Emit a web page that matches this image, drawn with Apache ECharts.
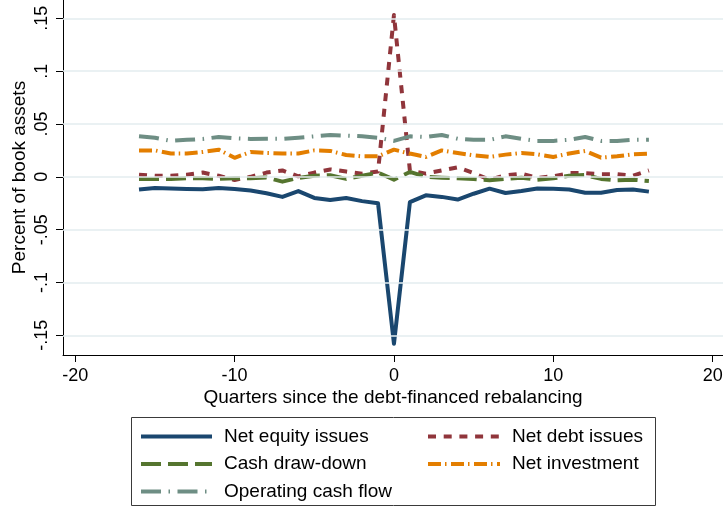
<!DOCTYPE html>
<html>
<head>
<meta charset="utf-8">
<script src="https://cdn.jsdelivr.net/npm/echarts@6/dist/echarts.min.js"></script>
<style>
html,body{margin:0;padding:0;background:#fff;}
#chart{width:723px;height:508px;}
</style>
</head>
<body>
<div id="chart"></div>
<script>
const quarters = [-16,-15,-14,-13,-12,-11,-10,-9,-8,-7,-6,-5,-4,-3,-2,-1,0,1,2,3,4,5,6,7,8,9,10,11,12,13,14,15,16];
const netEquity = [-0.012,-0.0105,-0.011,-0.0115,-0.0118,-0.0105,-0.0115,-0.013,-0.0155,-0.019,-0.0135,-0.020,-0.022,-0.020,-0.023,-0.025,-0.158,-0.024,-0.0175,-0.019,-0.0215,-0.016,-0.0112,-0.0153,-0.0134,-0.011,-0.0112,-0.012,-0.015,-0.015,-0.0125,-0.012,-0.014];
const netDebt = [0.002,0.001,0.001,0.002,0.004,0.001,-0.003,0.000,0.004,0.006,0.0005,0.004,0.007,0.005,0.003,0.005,0.153,0.006,0.003,0.006,0.009,0.0035,-0.0027,0.0014,0.003,-0.001,0.0005,0.0035,0.0035,0.0025,0.0025,0.001,0.006];
const cashDrawdown = [-0.002,-0.002,-0.002,-0.0014,-0.0014,-0.002,-0.0014,-0.0014,-0.0006,-0.0046,-0.001,0.001,0.0015,-0.002,0.001,0.004,-0.0027,0.0046,0.0,-0.0008,-0.0014,-0.002,-0.0033,-0.002,-0.0008,-0.0027,-0.0014,0.001,0.0017,-0.002,-0.0033,-0.0027,-0.004];
const netInvestment = [0.025,0.025,0.022,0.022,0.0235,0.0257,0.018,0.0235,0.0225,0.022,0.022,0.025,0.0245,0.0207,0.0194,0.0194,0.0257,0.022,0.0188,0.025,0.0225,0.0203,0.0188,0.021,0.0225,0.0213,0.0188,0.022,0.0245,0.0181,0.0194,0.0213,0.022];
const operatingCF = [0.0383,0.037,0.034,0.035,0.0358,0.0377,0.0364,0.0358,0.036,0.036,0.037,0.0383,0.0396,0.039,0.0383,0.037,0.034,0.0383,0.0377,0.0396,0.036,0.035,0.035,0.0383,0.036,0.034,0.034,0.035,0.0377,0.034,0.034,0.035,0.035];
const xTicks = [-20,-10,0,10,20];
const yTicks = [-0.15,-0.1,-0.05,0,0.05,0.1,0.15];

const FONT = '"Liberation Sans", Arial, Helvetica, sans-serif';
const LW = 4;
const pair = arr => quarters.map((q,i)=>[q,arr[i]]);
const fmtY = v => { if (Math.abs(v) < 1e-9) return '0'; return String(+v.toFixed(2)).replace('0.', '.'); };

const chart = echarts.init(document.getElementById('chart'), null, {renderer:'canvas'});
const mk = (name, data, color, type, z) => ({
  name, type:'line', data: pair(data), symbol:'none', showSymbol:false, z,
  lineStyle:{color, width:LW, type, cap:'butt', join:'round'},
  itemStyle:{color}, emphasis:{disabled:true}, animation:false
});
const legendCommon = {
  orient:'vertical', top:427, padding:0, itemHeight:20, itemGap:8.5, selectedMode:false,
  itemStyle:{color:'rgba(0,0,0,0)', borderColor:'rgba(0,0,0,0)', borderWidth:0, opacity:0},
  lineStyle:{width:LW},
  textStyle:{fontSize:19, color:'#000', fontFamily:FONT, padding:[0,0,0,7]}
};
chart.setOption({
  backgroundColor:'#ffffff',
  animation:false,
  textStyle:{fontFamily:FONT},
  grid:{left:63, right:0, top:0, bottom:153, containLabel:false, outerBoundsMode:'none'},
  xAxis:{
    type:'value', min:-20.77, max:20.65,
    name:'Quarters since the debt-financed rebalancing', nameLocation:'middle', nameGap:33, nameMoveOverlap:false,
    nameTextStyle:{fontSize:19, color:'#000', fontFamily:FONT},
    axisLine:{show:true, onZero:false, lineStyle:{color:'#000', width:1}},
    axisTick:{show:true, length:7, customValues:xTicks, lineStyle:{color:'#000', width:1}},
    axisLabel:{customValues:xTicks, fontSize:18, color:'#000', margin:12, fontFamily:FONT},
    splitLine:{show:false}
  },
  yAxis:{
    type:'value', min:-0.1686, max:0.1673,
    name:'Percent of book assets', nameLocation:'middle', nameGap:34, nameRotate:90, nameMoveOverlap:false,
    nameTextStyle:{fontSize:19, color:'#000', fontFamily:FONT},
    axisLine:{show:true, onZero:false, lineStyle:{color:'#000', width:1}},
    axisTick:{show:true, length:7, customValues:yTicks, lineStyle:{color:'#000', width:1}},
    axisLabel:{customValues:yTicks, rotate:90, fontSize:18, color:'#000', margin:12, formatter:fmtY, fontFamily:FONT},
    splitLine:{show:false}
  },
  legend:[
    Object.assign({}, legendCommon, {data:['Net equity issues','Cash draw-down','Operating cash flow'], left:139, itemWidth:71}),
    Object.assign({}, legendCommon, {data:['Net debt issues','Net investment'], left:426, itemWidth:72})
  ],
  graphic:[{type:'rect', shape:{x:131.5, y:417.5, width:524, height:88}, style:{fill:null, stroke:'#3a3a3a', lineWidth:1}, silent:true}],
  series:[
    {type:'line', name:'grid', data:[], z:1, silent:true, symbol:'none',
     markLine:{silent:true, symbol:'none', label:{show:false}, animation:false,
       lineStyle:{color:'#e3ecef', width:1.5, type:'solid'},
       data: yTicks.map(v=>({yAxis:v}))}},
    mk('Net equity issues', netEquity, '#1a476f', 'solid', 2),
    mk('Net debt issues', netDebt, '#90353b', [8,7.7], 3),
    mk('Cash draw-down', cashDrawdown, '#55752f', [20,7], 4),
    mk('Net investment', netInvestment, '#e37e00', [13,4,1.5,4.5], 5),
    mk('Operating cash flow', operatingCF, '#6e8e84', [20,7.5,1.5,7.5], 6)
  ]
});
</script>
</body>
</html>
